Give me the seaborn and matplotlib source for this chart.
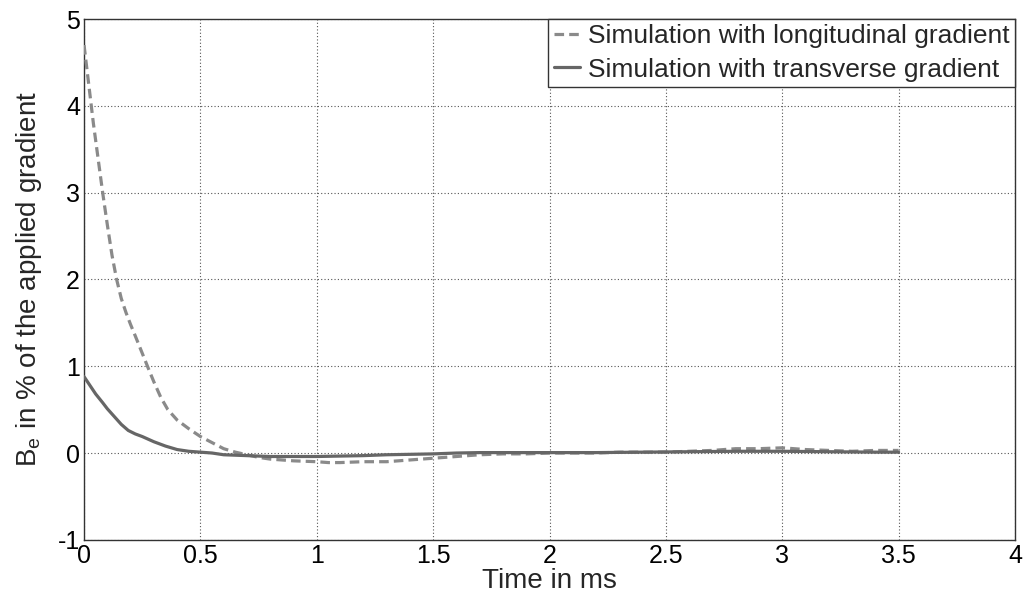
import numpy as np
import pandas as pd
import matplotlib
matplotlib.use("Agg")
import matplotlib.pyplot as plt
import seaborn as sns

# Longitudinal gradient simulation (dashed)
t_long = [0.00, 0.02, 0.04, 0.06, 0.08, 0.10, 0.12, 0.14, 0.16, 0.18, 0.20, 0.22,
          0.25, 0.28, 0.30, 0.33, 0.36, 0.40, 0.45, 0.50, 0.55, 0.60, 0.65, 0.70,
          0.75, 0.80, 0.90, 1.00, 1.05, 1.10, 1.20, 1.30, 1.40, 1.50, 1.60, 1.70,
          1.80, 1.90, 2.00, 2.10, 2.20, 2.30, 2.40, 2.50, 2.60, 2.70, 2.80, 2.90,
          3.00, 3.10, 3.20, 3.30, 3.40, 3.50]
b_long = [4.70, 4.25, 3.80, 3.40, 3.00, 2.63, 2.28, 2.00, 1.78, 1.62, 1.48, 1.35,
          1.15, 0.95, 0.82, 0.64, 0.50, 0.38, 0.28, 0.19, 0.12, 0.05, 0.01, -0.02,
          -0.05, -0.07, -0.09, -0.10, -0.11, -0.11, -0.10, -0.10, -0.08, -0.06, -0.04, -0.02,
          -0.01, -0.01, 0.00, 0.00, 0.00, 0.01, 0.01, 0.01, 0.02, 0.03, 0.05, 0.05,
          0.06, 0.04, 0.03, 0.02, 0.03, 0.03]

# Transverse gradient simulation (solid)
t_trans = [0.00, 0.02, 0.05, 0.08, 0.10, 0.13, 0.16, 0.19, 0.22, 0.25, 0.30, 0.35,
           0.40, 0.45, 0.50, 0.55, 0.60, 0.70, 0.80, 0.90, 1.00, 1.10, 1.20, 1.30,
           1.40, 1.50, 1.60, 1.70, 1.80, 2.00, 2.20, 2.40, 2.60, 2.80, 3.00, 3.20,
           3.40, 3.50]
b_trans = [0.88, 0.80, 0.68, 0.58, 0.51, 0.42, 0.33, 0.26, 0.22, 0.19, 0.13, 0.08,
           0.04, 0.02, 0.01, 0.00, -0.02, -0.03, -0.04, -0.04, -0.04, -0.035, -0.03, -0.02,
           -0.015, -0.01, 0.00, 0.005, 0.005, 0.005, 0.005, 0.01, 0.015, 0.02, 0.02, 0.015,
           0.01, 0.01]

labels = ["Simulation with longitudinal gradient", "Simulation with transverse gradient"]
x_ticks = [0, 0.5, 1, 1.5, 2, 2.5, 3, 3.5, 4]
x_ticklabels = ["0", "0.5", "1", "1.5", "2", "2.5", "3", "3.5", "4"]
y_ticks = [-1, 0, 1, 2, 3, 4, 5]

sns.set_style("white")
plt.rcParams['font.family'] = ['Liberation Sans', 'DejaVu Sans']
plt.rcParams['mathtext.default'] = 'regular'

fig = plt.figure(figsize=(10.30, 6.06), dpi=100)
ax = fig.add_axes([0.0816, 0.1092, 0.9038, 0.8594])

df_long = pd.DataFrame({"t": t_long, "b": b_long})
df_trans = pd.DataFrame({"t": t_trans, "b": b_trans})

sns.lineplot(data=df_long, x="t", y="b", ax=ax, color="#8a8a8a", linewidth=2.3,
             linestyle=(0, (3.0, 1.6)), label=labels[0], zorder=3)
sns.lineplot(data=df_trans, x="t", y="b", ax=ax, color="#666666", linewidth=2.3,
             linestyle="-", label=labels[1], zorder=3)

ax.set_xlim(0, 4)
ax.set_ylim(-1, 5)
ax.set_xticks(x_ticks)
ax.set_xticklabels(x_ticklabels)
ax.set_yticks(y_ticks)
ax.set_yticklabels([str(v) for v in y_ticks])
ax.tick_params(direction="in", length=5, width=0.8, labelsize=18, pad=3, colors="black")
ax.grid(True, linestyle=(0, (1, 2)), color="#555555", linewidth=0.8)
ax.set_axisbelow(True)
for s in ax.spines.values():
    s.set_visible(True)
    s.set_color("#333333")
    s.set_linewidth(1.0)

ax.set_xlabel("Time in ms", fontsize=20, labelpad=0)
ax.set_ylabel("B$_e$ in % of the applied gradient", fontsize=20, labelpad=10)

leg = ax.legend(loc="upper right", fontsize=19, handlelength=1.0, handletextpad=0.3,
                borderpad=0.2, labelspacing=0.35, borderaxespad=0, fancybox=False,
                framealpha=1, edgecolor="#333333")
leg.get_frame().set_linewidth(1.0)

fig.savefig("out.png", dpi=100)
